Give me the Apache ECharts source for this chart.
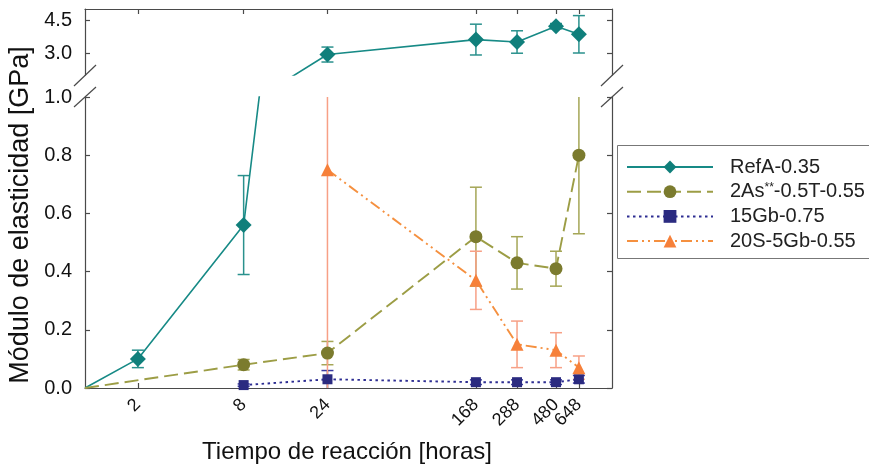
<!DOCTYPE html>
<html>
<head>
<meta charset="utf-8">
<script src="https://cdn.jsdelivr.net/npm/echarts@6/dist/echarts.min.js"></script>
<style>
  html, body { margin: 0; padding: 0; background: #ffffff; }
  #chart { width: 869px; height: 468px; }
</style>
</head>
<body>
<div id="chart"></div>
<script>
// Reaction time (hours) where the axis is ticked and labelled
const tickHours = [2, 8, 24, 168, 288, 480, 648];
// the last label sits close to its neighbour, so it gets an axis of its own
const mainLabelHours = [2, 8, 24, 168, 288, 480];
const lastLabelHours = [648];

// RefA-0.35 (the start point sits at the left edge of the log axis)
const refAHours  = [1, 2, 8, 24, 168, 288, 480, 648];
const refAValues = [0, 0.10, 0.56, 2.93, 3.61, 3.50, 4.22, 3.85];
const refAErrors = [null, 0.03, 0.17, 0.34, 0.70, 0.51, 0.12, 0.85];

// 2As**-0.5T-0.55
const asHours  = [1, 8, 24, 168, 288, 480, 648];
const asValues = [0, 0.08, 0.12, 0.52, 0.43, 0.41, 0.80];
const asErrors = [null, 0.018, 0.04, 0.17, 0.09, 0.06, 0.27];

// 15Gb-0.75
const gbHours  = [8, 24, 168, 288, 480, 648];
const gbValues = [0.01, 0.03, 0.02, 0.02, 0.02, 0.03];
const gbErrors = [0.004, 0.03, 0.008, 0.008, 0.008, 0.013];

// 20S-5Gb-0.55
const sgHours  = [24, 168, 288, 480, 648];
const sgValues = [0.75, 0.37, 0.15, 0.13, 0.07];
const sgErrors = [0.75, 0.10, 0.08, 0.06, 0.04];

const FONT = 'Liberation Sans, Arial, sans-serif';
const AXIS = '#4a4a4a';

const groups = [
  { name: 'RefA-0.35', hours: refAHours, values: refAValues, errors: refAErrors,
    line: '#178a86', marker: '#107f7b', err: '#2a918d',
    dash: 'solid', symbol: 'diamond', size: 16, top: true },
  { name: '2As**-0.5T-0.55', hours: asHours, values: asValues, errors: asErrors,
    line: '#9c9d45', marker: '#7b7b2e', err: '#a5a656',
    dash: [14, 6], symbol: 'circle', size: 13, top: false },
  { name: '15Gb-0.75', hours: gbHours, values: gbValues, errors: gbErrors,
    line: '#2d2d92', marker: '#2b2b80', err: '#3a3aa0',
    dash: [2.5, 3.5], symbol: 'rect', size: 10, top: false },
  { name: '20S-5Gb-0.55', hours: sgHours, values: sgValues, errors: sgErrors,
    line: '#f5903f', marker: '#f6803a', err: '#f7a086',
    dash: [11, 4, 2, 4, 2, 4], symbol: 'triangle', size: 13, top: false }
];

function lineSeries(g, xi, yi) {
  return {
    type: 'line', name: g.name, xAxisIndex: xi, yAxisIndex: yi,
    clip: true, showAllSymbol: true,
    symbol: g.symbol, symbolSize: g.size,
    lineStyle: { color: g.line, width: g.dash === 'solid' ? 1.6 : 1.9, type: g.dash },
    itemStyle: { color: g.marker },
    emphasis: { disabled: true },
    z: 3,
    data: g.hours.map((h, i) => (g.hours[i] === 1
      ? { value: [h, g.values[i]], symbol: 'none' }
      : [h, g.values[i]]))
  };
}

function errorSeries(g, xi, yi) {
  const rows = [];
  g.hours.forEach((h, i) => {
    if (g.errors[i] != null) rows.push([h, g.values[i] - g.errors[i], g.values[i] + g.errors[i]]);
  });
  return {
    type: 'custom', name: g.name + ' err', xAxisIndex: xi, yAxisIndex: yi, z: 2,
    encode: { x: 0, y: [1, 2] },
    data: rows,
    renderItem: function (params, api) {
      const cs = params.coordSys;
      const top = cs.y, bottom = cs.y + cs.height;
      const x = api.value(0);
      const lo = api.coord([x, api.value(1)]);
      const hi = api.coord([x, api.value(2)]);
      const yHi = hi[1], yLo = lo[1];
      if (yLo < top || yHi > bottom) return null;
      const a = Math.max(yHi, top), b = Math.min(yLo, bottom);
      const px = lo[0];
      const style = { stroke: g.err, lineWidth: 1.5 };
      const children = [{ type: 'line', shape: { x1: px, y1: a, x2: px, y2: b }, style }];
      const cap = 6;
      if (yHi >= top + 1 && yHi <= bottom - 1)
        children.push({ type: 'line', shape: { x1: px - cap, y1: yHi, x2: px + cap, y2: yHi }, style });
      if (yLo >= top + 1 && yLo <= bottom - 1)
        children.push({ type: 'line', shape: { x1: px - cap, y1: yLo, x2: px + cap, y2: yLo }, style });
      return { type: 'group', children };
    }
  };
}

const series = [];
groups.forEach(g => {
  series.push(lineSeries(g, 1, 2));
  if (g.top) series.push(lineSeries(g, 0, 0));
});
groups.forEach(g => {
  series.push(errorSeries(g, 1, 2));
  if (g.top) series.push(errorSeries(g, 0, 0));
});

const axisLineStyle = { lineStyle: { color: AXIS, width: 1.2 } };
const tickStyle = { lineStyle: { color: AXIS, width: 1.2 } };
const yLabel = { margin: 13, fontSize: 20, color: '#111', fontFamily: FONT };
const xLabel = { rotate: 45, margin: 14, fontSize: 18, hideOverlap: false, color: '#111', fontFamily: FONT };

const option = {
  animation: false,
  backgroundColor: '#ffffff',
  textStyle: { fontFamily: FONT },
  grid: [
    { left: 85, top: 9, width: 527, height: 66 },
    { left: 85, top: 97, width: 527, height: 291 }
  ],
  xAxis: [
    { gridIndex: 0, type: 'log', logBase: 10, min: 1, max: 1000, position: 'top',
      axisLine: axisLineStyle,
      axisTick: { inside: true, length: 5, customValues: tickHours, ...tickStyle },
      axisLabel: { show: false }, splitLine: { show: false }, minorTick: { show: false } },
    { gridIndex: 1, type: 'log', logBase: 10, min: 1, max: 1000, position: 'bottom',
      axisLine: axisLineStyle,
      axisTick: { inside: true, length: 5, customValues: tickHours, ...tickStyle },
      axisLabel: { customValues: mainLabelHours, ...xLabel },
      splitLine: { show: false }, minorTick: { show: false } },
    { gridIndex: 1, type: 'log', logBase: 10, min: 1, max: 1000, position: 'bottom',
      axisLine: { show: false }, axisTick: { show: false },
      axisLabel: { customValues: lastLabelHours, ...xLabel },
      splitLine: { show: false }, minorTick: { show: false } }
  ],
  yAxis: [
    { gridIndex: 0, type: 'value', min: 2, max: 5, position: 'left',
      axisLine: { show: true, ...axisLineStyle },
      axisTick: { show: true, inside: true, length: 5, customValues: [3, 4.5], ...tickStyle },
      axisLabel: { customValues: [3, 4.5], formatter: v => v.toFixed(1), ...yLabel },
      splitLine: { show: false } },
    { gridIndex: 0, type: 'value', min: 2, max: 5, position: 'right',
      axisLine: { show: true, ...axisLineStyle },
      axisTick: { show: true, inside: true, length: 5, customValues: [3, 4.5], ...tickStyle },
      axisLabel: { show: false }, splitLine: { show: false } },
    { gridIndex: 1, type: 'value', min: 0, max: 1, interval: 0.2, position: 'left',
      axisLine: { show: true, ...axisLineStyle },
      axisTick: { show: true, inside: true, length: 5, ...tickStyle },
      axisLabel: { formatter: v => v.toFixed(1), ...yLabel },
      splitLine: { show: false } },
    { gridIndex: 1, type: 'value', min: 0, max: 1, interval: 0.2, position: 'right',
      axisLine: { show: true, ...axisLineStyle },
      axisTick: { show: true, inside: true, length: 5, ...tickStyle },
      axisLabel: { show: false }, splitLine: { show: false } }
  ],
  legend: {
    orient: 'vertical', left: 617, top: 145,
    padding: [12, 20, 7, 9],
    itemWidth: 86, itemHeight: 16, itemGap: 4.7,
    borderWidth: 0,
    data: groups.map(g => g.name),
    formatter: name => name === '2As**-0.5T-0.55' ? '2As{sup|**}-0.5T-0.55' : name,
    textStyle: {
      fontFamily: FONT, fontSize: 20, color: '#222', lineHeight: 20,
      padding: [0, 0, 0, 12],
      rich: { sup: { fontSize: 12, lineHeight: 20, verticalAlign: 'top', fontFamily: FONT, color: '#222' } }
    }
  },
  graphic: [
    // legend frame, running past the right edge
    { type: 'rect', shape: { x: 617.5, y: 145.5, width: 300, height: 113 },
      style: { fill: 'none', stroke: '#777', lineWidth: 1 }, z: 5 },
    // axis break marks
    { type: 'line', shape: { x1: 74, y1: 86, x2: 96, y2: 65 }, style: { stroke: AXIS, lineWidth: 1.2 } },
    { type: 'line', shape: { x1: 74, y1: 107, x2: 96, y2: 87 }, style: { stroke: AXIS, lineWidth: 1.2 } },
    { type: 'line', shape: { x1: 601, y1: 86, x2: 623, y2: 65 }, style: { stroke: AXIS, lineWidth: 1.2 } },
    { type: 'line', shape: { x1: 601, y1: 107, x2: 623, y2: 87 }, style: { stroke: AXIS, lineWidth: 1.2 } },
    // axis titles
    { type: 'text', x: 21, y: 215, rotation: Math.PI / 2,
      style: { text: 'Módulo de elasticidad [GPa]', font: '27px ' + FONT, fill: '#111',
        textAlign: 'center', textVerticalAlign: 'middle' } },
    { type: 'text', x: 347, y: 452,
      style: { text: 'Tiempo de reacción [horas]', font: '24px ' + FONT, fill: '#111',
        textAlign: 'center', textVerticalAlign: 'middle' } }
  ],
  series
};

const chart = echarts.init(document.getElementById('chart'), null, { renderer: 'canvas' });
chart.setOption(option);
</script>
</body>
</html>
